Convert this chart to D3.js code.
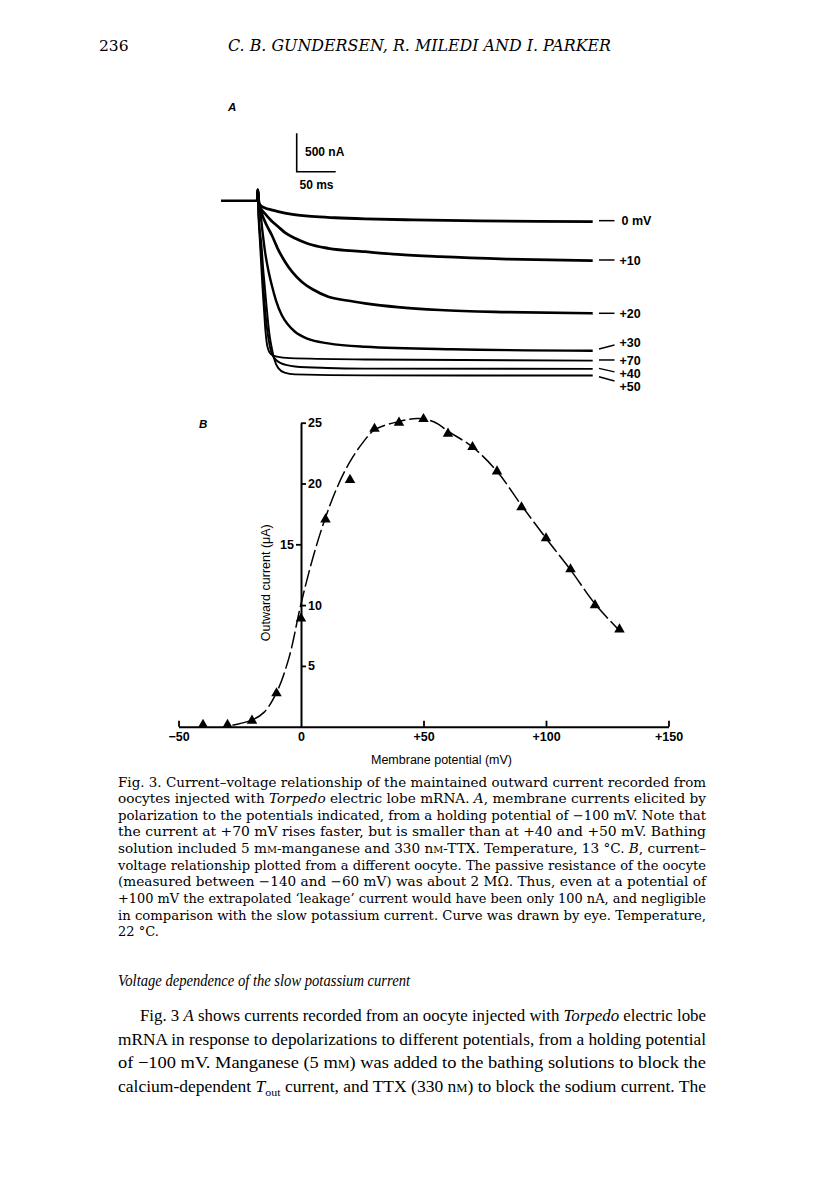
<!DOCTYPE html>
<html><head><meta charset="utf-8">
<script src="https://cdn.jsdelivr.net/npm/d3@7"></script>
<style>body{margin:0;background:#fff}</style>
</head><body><svg id="c" width="816" height="1191" xmlns="http://www.w3.org/2000/svg"></svg>
<script>
// ---------- DATA ----------
// Panel B: current-voltage relationship (mV, µA)
const ivVoltage = [-40,-30,-20,-10,0,10,20,30,40,50,60,70,80,90,100,110,120,130];
const ivCurrent = [0.15,0.15,0.5,2.75,8.9,17.05,20.3,24.5,25.0,25.3,24.1,23.0,21.0,18.05,15.5,12.95,10.0,8.0];
// hand-drawn curve
const curveVoltage = [-28,-20,-15,-10,-5,0,5,10,15,20,25,30,40,48,55,60,70,80,90,100,110,120,130];
const curveCurrent = [0.12,0.55,1.2,2.8,5.6,10.1,14.0,17.2,19.8,21.8,23.3,24.4,25.1,25.35,25.0,24.3,23.0,21.0,18.2,15.5,12.9,10.1,7.9];
const xTicksB = [-50,0,50,100,150];
const yTicksBRight = [5,10,20,25];
const yTicksBLeft = [15];

// Panel A: membrane current traces  [time (ms), current (nA, drawn downward)]
const holdingTrace = [[-46.5,0],[0,0]];
const traceLabels = ["0 mV","+10","+20","+30","+70","+40","+50"];
const trace0  = [[0,0],[0.7,-140],[2,20],[3.5,56],[10,95],[18,120],[26.9,143],[45,178],[69.7,205],[100,222],[138,236],[200,250],[285,263],[360,270],[430,273]];
const trace10 = [[0,0],[0.7,-140],[2,30],[3.5,78],[10,170],[18,260],[26.9,339],[36,420],[48.3,490],[65,560],[91,620],[138,664],[180,700],[234,729],[320,760],[430,781]];
const trace20 = [[0,0],[0.7,-140],[2,40],[3.5,99],[8,230],[12,320],[18.5,447],[26,620],[35.5,794],[45,930],[56.9,1055],[72,1160],[91,1250],[115,1300],[138,1336],[180,1385],[234,1423],[320,1450],[430,1466]];
const trace30 = [[0,0],[0.7,-140],[2,50],[3.5,121],[6.5,390],[9.9,664],[14,900],[18.5,1098],[24,1300],[31.3,1488],[39,1610],[48.3,1706],[65,1800],[91,1857],[138,1901],[250,1935],[430,1953]];
const trace70 = [[0,0],[0.7,-140],[1.5,186],[3,480],[4.7,772],[6.5,1100],[8.6,1423],[10.5,1700],[12.4,1870],[14.5,1950],[17.6,2000],[25,2030],[41.9,2050],[138,2067],[430,2083]];
const trace40 = [[0,0],[0.7,-140],[1.5,147],[3,400],[4.7,642],[6.5,930],[8.6,1228],[10.5,1470],[12.4,1660],[14.5,1810],[16.3,1910],[19,2000],[22.7,2060],[30,2115],[48.3,2158],[90,2178],[138,2186],[430,2190]];
const trace50 = [[0,0],[0.7,-140],[1.5,134],[3,360],[5.4,577],[7.5,880],[9.9,1150],[12,1390],[13.7,1570],[16,1770],[18.8,1930],[22,2070],[26.9,2180],[35,2238],[48.3,2262],[138,2275],[430,2276]];
const scaleBarCurrent = 500; // nA
const scaleBarTime = 50;     // ms

// ---------- TEXT ----------
const headerNumber = "236";
const headerTitle = "C. B. GUNDERSEN, R. MILEDI AND I. PARKER";
const captionLines = [
  [["Fig. 3. Current–voltage relationship of the maintained outward current recorded from"]],
  [["oocytes injected with "],["Torpedo","i"],[" electric lobe mRNA. "],["A","i"],[", membrane currents elicited by"]],
  [["polarization to the potentials indicated, from a holding potential of −100 mV. Note that"]],
  [["the current at +70 mV rises faster, but is smaller than at +40 and +50 mV. Bathing"]],
  [["solution included 5 m"],["M","sc"],["-manganese and 330 n"],["M","sc"],["-TTX. Temperature, 13 °C. "],["B","i"],[", current–"]],
  [["voltage relationship plotted from a different oocyte. The passive resistance of the oocyte"]],
  [["(measured between −140 and −60 mV) was about 2 MΩ. Thus, even at a potential of"]],
  [["+100 mV the extrapolated ‘leakage’ current would have been only 100 nA, and negligible"]],
  [["in comparison with the slow potassium current. Curve was drawn by eye. Temperature,"]],
  [["22 °C."]]
];
const headingText = "Voltage dependence of the slow potassium current";
const bodyLines = [
  [["Fig. 3 "],["A","i"],[" shows currents recorded from an oocyte injected with "],["Torpedo","i"],[" electric lobe"]],
  [["mRNA in response to depolarizations to different potentials, from a holding potential"]],
  [["of −100 mV. Manganese (5 m"],["M","sc"],[") was added to the bathing solutions to block the"]],
  [["calcium-dependent "],["T","i"],["out","sub"],[" current, and TTX (330 n"],["M","sc"],[") to block the sodium current. The"]]
];

// ---------- DRAW ----------
const svg = d3.select("#c");
svg.append("rect").attr("width",816).attr("height",1191).attr("fill","#fff");
const serif = "'DejaVu Serif', 'Liberation Serif', serif";
const times = "'Liberation Serif', 'DejaVu Serif', serif";
const sans = "'Liberation Sans', Arial, sans-serif";

// header
svg.append("text").attr("x",99).attr("y",51).attr("font-family",serif).attr("font-size",15.5).text(headerNumber);
svg.append("text").attr("x",228).attr("y",51).attr("font-family",serif).attr("font-size",16).attr("font-style","italic")
  .attr("textLength",383).attr("lengthAdjust","spacingAndGlyphs").text(headerTitle);

// ---- Panel A ----
const xA = d3.scaleLinear().domain([0,50]).range([257.3,296.3]);
const yA = d3.scaleLinear().domain([0,500]).range([200.7,239.1]);
const gA = svg.append("g");
gA.append("text").attr("x",228).attr("y",111).attr("font-family",sans).attr("font-size",11.5).attr("font-style","italic").attr("font-weight","bold").text("A");

// scale bar
const sbX = 296.7, sbY = 171.7;
gA.append("path").attr("fill","none").attr("stroke","#000").attr("stroke-width",1.6)
  .attr("d",`M${sbX},${sbY-(yA(scaleBarCurrent)-yA(0))}V${sbY}H${sbX+(xA(scaleBarTime)-xA(0))}`);
gA.append("text").attr("x",305).attr("y",155.5).attr("font-family",sans).attr("font-size",12).attr("font-weight","bold").text(scaleBarCurrent+" nA");
gA.append("text").attr("x",299.5).attr("y",189).attr("font-family",sans).attr("font-size",12).attr("font-weight","bold").text(scaleBarTime+" ms");

const traces = [trace0,trace10,trace20,trace30,trace70,trace40,trace50];
const traceWidths = [2.8,2.8,2.7,2.4,1.9,1.9,1.9];
const lineA = d3.line().x(d=>xA(d[0])).y(d=>yA(d[1])).curve(d3.curveMonotoneX);
gA.append("path").attr("d",lineA(holdingTrace)).attr("fill","none").attr("stroke","#000").attr("stroke-width",2.5);
traces.forEach((tr,i)=>{
  gA.append("path").attr("d",lineA(tr)).attr("fill","none").attr("stroke","#000")
    .attr("stroke-width",traceWidths[i]).attr("stroke-linejoin","round");
});
// labels at right
const dashX0 = 599, dashX1 = 614.5;
const dashDy = [[-1,-1],[-0.7,-0.7],[0,0],[-1.7,-5.7],[-0.7,-0.7],[-0.5,3],[1.2,5.5]];
const labelBase = [224.5,264.5,318,347,364.5,378,391];
traces.forEach((tr,i)=>{
  const yEnd = yA(tr[tr.length-1][1]);
  gA.append("line").attr("x1",dashX0).attr("x2",dashX1).attr("y1",yEnd+dashDy[i][0]).attr("y2",yEnd+dashDy[i][1])
    .attr("stroke","#000").attr("stroke-width",1.5);
  gA.append("text").attr("x",i===0?621.5:619.5).attr("y",labelBase[i]).attr("font-family",sans)
    .attr("font-size",12.5).attr("font-weight","bold").text(traceLabels[i]);
});

// ---- Panel B ----
const xB = d3.scaleLinear().domain([-50,150]).range([178.5,668.5]);
const yB = d3.scaleLinear().domain([0,25]).range([726.7,422.7]);
const gB = svg.append("g");
gB.append("text").attr("x",199).attr("y",428).attr("font-family",sans).attr("font-size",11.5).attr("font-style","italic").attr("font-weight","bold").text("B");

const fmt = d => d>0 ? "+"+d : (d<0 ? "−"+Math.abs(d) : "0");
const xAxis = gB.append("g").attr("transform",`translate(0,${yB(0)})`)
  .call(d3.axisBottom(xB).tickValues(xTicksB).tickFormat(fmt).tickSize(-6).tickSizeOuter(0).tickPadding(5));
const yAxisR = gB.append("g").attr("transform",`translate(${xB(0)},0)`)
  .call(d3.axisRight(yB).tickValues(yTicksBRight).tickSize(5).tickSizeOuter(0).tickPadding(2));
const yAxisL = gB.append("g").attr("transform",`translate(${xB(0)},0)`)
  .call(d3.axisLeft(yB).tickValues(yTicksBLeft).tickSize(5).tickSizeOuter(0).tickPadding(2));
yAxisL.select(".domain").remove();
[xAxis,yAxisR,yAxisL].forEach(g=>{
  g.attr("font-family",sans).attr("font-size",12.5);
  g.selectAll("text").attr("fill","#000").attr("font-weight","bold");
  g.selectAll("line").attr("stroke","#000").attr("stroke-width",1.8);
  g.selectAll(".domain").attr("stroke","#000").attr("stroke-width",2);
});
xAxis.selectAll(".tick").filter(d=>d===0).select("line").remove();

// dashed hand-drawn curve
const curvePts = curveVoltage.map((v,i)=>[v,curveCurrent[i]]);
gB.append("path").attr("d",d3.line().x(d=>xB(d[0])).y(d=>yB(d[1])).curve(d3.curveCatmullRom.alpha(0.5))(curvePts))
  .attr("fill","none").attr("stroke","#000").attr("stroke-width",1.5).attr("stroke-dasharray","17,4");

// triangles
const tri = d3.symbol().type(d3.symbolTriangle).size(48);
gB.selectAll("path.pt").data(ivVoltage.map((v,i)=>[v,ivCurrent[i]])).join("path").attr("class","pt")
  .attr("d",tri).attr("transform",d=>`translate(${xB(d[0])},${yB(d[1])})`).attr("fill","#000");

// axis titles
gB.append("text").attr("transform",`translate(269.5,${(yB(0)+yB(25))/2+8}) rotate(-90)`).attr("text-anchor","middle")
  .attr("font-family",sans).attr("font-size",12.5).text("Outward current (μA)");
gB.append("text").attr("x",441.5).attr("y",764).attr("text-anchor","middle")
  .attr("font-family",sans).attr("font-size",12.5).text("Membrane potential (mV)");

// ---- caption and body text ----
function writeLine(x, y, segs, size, width, family, italicAll){
  const t = svg.append("text").attr("x",x).attr("y",y).attr("font-family",family).attr("font-size",size).attr("fill","#000");
  if (italicAll) t.attr("font-style","italic");
  const nodes = [];
  segs.forEach(s=>{
    const sp = t.append("tspan").text(s[0]);
    if (s[1]==="i") sp.attr("font-style","italic");
    if (s[1]==="sc") sp.attr("font-size",size*0.72);
    if (s[1]==="sub") sp.attr("font-size",size*0.68).attr("dy",size*0.28);
    nodes.push(sp);
  });
  segs.forEach((s,k)=>{ if (s[1]==="sub" && nodes[k+1]) nodes[k+1].attr("dy",-size*0.28); });
  if (width) t.attr("textLength",width).attr("lengthAdjust","spacingAndGlyphs");
  return t;
}
const capX = 118, capRight = 706, capY0 = 786.5, capStep = 16.65;
captionLines.forEach((ln,i)=>{
  writeLine(capX, capY0 + i*capStep, ln, 13, i<captionLines.length-1 ? capRight-capX : null, serif);
});
writeLine(118, 986, [[headingText]], 16, 292, times, true);
const bodyY0 = 1021, bodyStep = 23.6;
bodyLines.forEach((ln,i)=>{
  const x = i===0 ? 140 : 118;
  writeLine(x, bodyY0 + i*bodyStep, ln, 16.5, capRight - x, times);
});
</script></body></html>
